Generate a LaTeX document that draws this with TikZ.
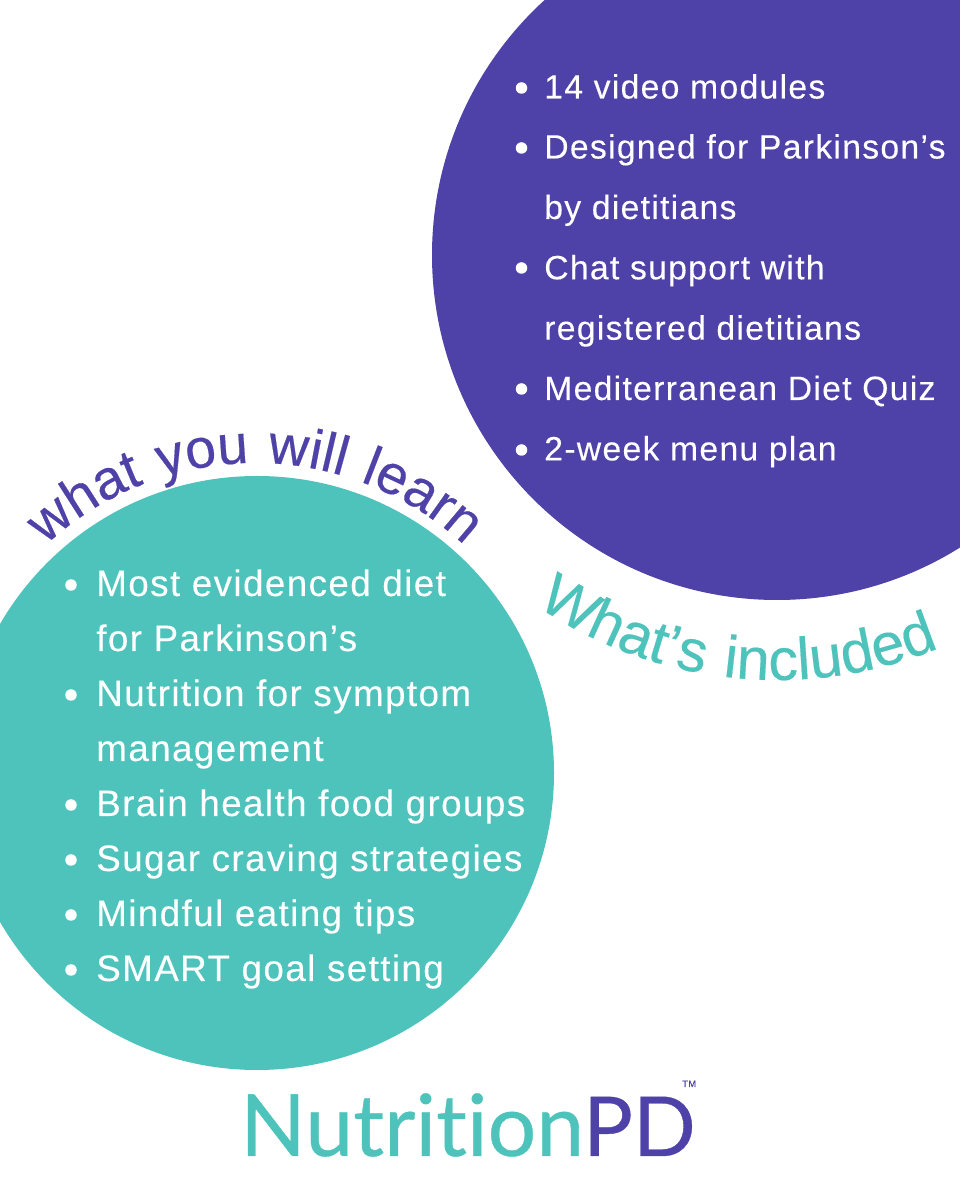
\documentclass[tikz,border=0pt]{standalone}
\usepackage{fontspec}
\setmainfont{Liberation Sans}[LetterSpace=3.8,FakeBold=0.15]
\newfontfamily\headfont[LetterSpace=5,FakeBold=0.3]{Liberation Sans}
\newfontfamily\logofont[Ligatures=NoCommon,FakeBold=0.4]{Lato}
\usetikzlibrary{decorations.text}
\definecolor{npurple}{HTML}{4E41A7}
\definecolor{nteal}{HTML}{4EC3BB}
\tikzset{
  x=0.75pt,y=0.75pt,
  pline/.style={anchor=base west,inner sep=0pt,text=white,font=\fontsize{25.3pt}{30pt}\selectfont},
  tline/.style={anchor=base west,inner sep=0pt,text=white,font=\fontsize{27.6pt}{30pt}\selectfont},
  dot/.style={circle,fill=white,inner sep=0pt,minimum size=11.5pt*0.75},
  logo/.style={anchor=base west,inner sep=0pt,font=\logofont\fontsize{62pt}{70pt}\selectfont},
}
\begin{document}
\begin{tikzpicture}
\useasboundingbox (0,0) rectangle (960,1200);
\fill[white] (0,0) rectangle (960,1200);
\begin{scope}
\clip (0,0) rectangle (960,1200);
\fill[npurple] (777,945) circle[radius=345];
\fill[nteal] (257,427) circle[radius=297];
\end{scope}
% purple list
\node[dot] (pd1) at (521.5,1112) {};
\node[pline] (p1) at (544,1101.5) {14 video modules};
\node[dot] (pd2) at (521.5,1052) {};
\node[pline] (p2) at (544,1041.5) {Designed for Parkinson’s};
\node[pline] (p3) at (544,981) {by dietitians};
\node[dot] (pd3) at (521.5,932) {};
\node[pline] (p4) at (544,920.7) {Chat support with};
\node[pline] (p5) at (544,860.3) {registered dietitians};
\node[dot] (pd4) at (521.5,811) {};
\node[pline] (p6) at (544,800) {Mediterranean Diet Quiz};
\node[dot] (pd5) at (521.5,750) {};
\node[pline] (p7) at (544,739.6) {2-week menu plan};
% teal list
\node[dot] (td1) at (71,615) {};
\node[tline] (t1) at (96,604) {Most evidenced diet};
\node[tline] (t2) at (96,549) {for Parkinson’s};
\node[dot] (td2) at (71,505) {};
\node[tline] (t3) at (96,494) {Nutrition for symptom};
\node[tline] (t4) at (96,439) {management};
\node[dot] (td3) at (71,395) {};
\node[tline] (t5) at (96,384) {Brain health food groups};
\node[dot] (td4) at (71,340) {};
\node[tline] (t6) at (96,329) {Sugar craving strategies};
\node[dot] (td5) at (71,285) {};
\node[tline] (t7) at (96,274) {Mindful eating tips};
\node[dot] (td6) at (71,230) {};
\node[tline] (t8) at (96,219) {SMART goal setting};
% curved headings
\path[decorate,decoration={text along path,text align=center,
  text={|\headfont\fontsize{41.5pt}{44pt}\selectfont\color{npurple}|what you will learn}}]
  (255,430) ++(145:307) arc[start angle=145,end angle=35,radius=307];
\path[decorate,decoration={text along path,text align=center,
  text={|\headfont\fontsize{44.5pt}{48pt}\selectfont\color{nteal}|What’s included}}]
  (777,945) ++(230:425) arc[start angle=230,end angle=298,radius=425];
% logo
\node[logo,text=nteal,font=\logofont\fontsize{64.5pt}{70pt}\selectfont] (lg1) at (240,44) {Nutrition};
\node[logo,text=npurple] (lg2) at (583,44) {PD};
\node[anchor=base west,inner sep=0pt,text=npurple,font=\fontsize{7pt}{8pt}\selectfont] (tm) at (682,113) {TM};
\end{tikzpicture}
\end{document}
